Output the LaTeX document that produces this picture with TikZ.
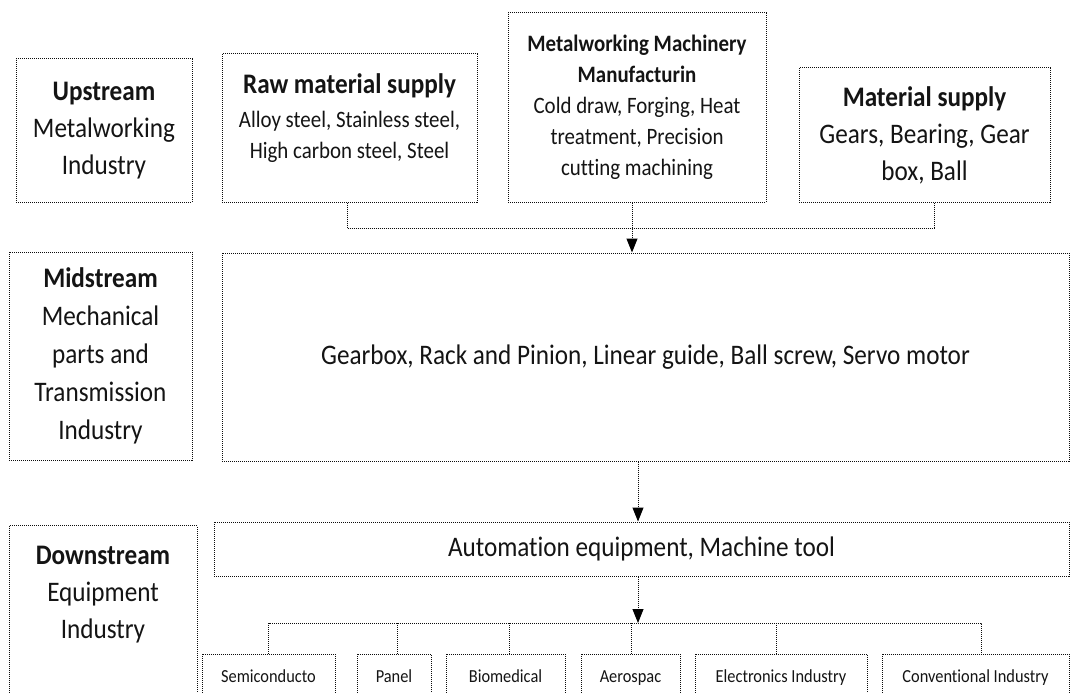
\documentclass[tikz,border=0pt]{standalone}
\usepackage{fontspec}
\setmainfont{Carlito}[FakeStretch=0.89,Ligatures=NoCommon]
\usetikzlibrary{arrows.meta}
\tikzset{
  dotline/.style={draw=black!95, line width=1pt, dash pattern=on 1pt off 1pt},
  bx/.style={dotline, inner sep=0pt, align=center, text=black!92},
  txt/.style={inner sep=0pt, align=center, text=black!92},
  conn/.style={dotline},
  arr/.style={conn, -{Triangle[width=11pt,length=14pt,color=black]}},
  fbig/.style={font=\fontsize{28.3}{37}\selectfont},
  fsmall/.style={font=\fontsize{23.5}{31}\selectfont},
  ftiny/.style={font=\fontsize{18.4}{22}\selectfont, text height=13pt, text depth=4pt}
}
\begin{document}
\begin{tikzpicture}[x=1pt,y=-1pt]
\useasboundingbox (0,0) rectangle (1071,693);
\fill[white] (0,0) rectangle (1071,693);
\clip (0,0) rectangle (1071,693);

% upstream row
\node[bx, fbig, minimum width=176pt, minimum height=143pt] (up) at (104,130.5)
  {\textbf{Upstream}\\Metalworking\\Industry};
\node[bx, minimum width=255pt, minimum height=148pt] (raw) at (349.5,128) {};
\node[txt, fsmall] (rawtxt) at (349.5,118)
  {{\fontsize{28.3}{34}\selectfont\textbf{Raw material supply}}\\[3pt]Alloy steel, Stainless steel,\\High carbon steel, Steel};
\node[bx, fsmall, minimum width=258pt, minimum height=189pt] (metal) at (637,107.5)
  {\textbf{Metalworking Machinery}\\\textbf{Manufacturin}\\Cold draw, Forging, Heat\\treatment, Precision\\cutting machining};
\node[bx, fbig, minimum width=251pt, minimum height=134pt] (mat) at (924.5,135)
  {\textbf{Material supply}\\Gears, Bearing, Gear\\box, Ball};

% midstream row
\node[bx, font=\fontsize{28.3}{38}\selectfont, minimum width=183pt, minimum height=208pt] (midl) at (100.5,356)
  {\textbf{Midstream}\\Mechanical\\parts and\\Transmission\\Industry};
\node[bx, fbig, minimum width=847pt, minimum height=208pt] (midbox) at (645.5,357)
  {Gearbox, Rack and Pinion, Linear guide, Ball screw, Servo motor};

% downstream row
\node[bx, minimum width=188pt, minimum height=190pt, anchor=north] (downl) at (103,525) {};
\node[txt, fbig] (downtxt) at (103,595) {\textbf{Downstream}\\Equipment\\Industry};
\node[bx, fbig, minimum width=855pt, minimum height=54pt] (auto) at (641.5,549)
  {Automation equipment, Machine tool};

\node[bx, ftiny, minimum width=133pt, minimum height=48pt] (semi) at (268.5,678) {Semiconducto};
\node[bx, ftiny, minimum width=74pt, minimum height=48pt] (panel) at (394,678) {Panel};
\node[bx, ftiny, minimum width=119pt, minimum height=48pt] (bio) at (505.5,678) {Biomedical};
\node[bx, ftiny, minimum width=99pt, minimum height=48pt] (aero) at (630.5,678) {Aerospac};
\node[bx, ftiny, minimum width=172pt, minimum height=48pt] (elec) at (781,678) {Electronics Industry};
\node[bx, ftiny, minimum width=187pt, minimum height=48pt] (conv) at (975.5,678) {Conventional Industry};

% connectors
\coordinate (jtop) at (632,228);
\draw[conn] ([xshift=-2.5pt]raw.south) |- (jtop) -| ([xshift=9.5pt]mat.south);
\draw[arr] ([xshift=-5pt]metal.south) -- ([xshift=-5pt]metal.south |- midbox.north);
\draw[arr] ([xshift=-7.5pt]midbox.south) -- ([xshift=-7.5pt]midbox.south |- auto.north);
\coordinate (bus) at (638,623);
\draw[arr] ([xshift=-3.5pt]auto.south) -- (bus);
\draw[conn] (semi.north) |- ([xshift=5.5pt]conv.north |- bus) -- ([xshift=5.5pt]conv.north);
\draw[conn] ([xshift=3pt]panel.north) -- ([xshift=3pt]panel.north |- bus);
\draw[conn] ([xshift=3.5pt]bio.north) -- ([xshift=3.5pt]bio.north |- bus);
\draw[conn] ([xshift=0.5pt]aero.north) -- ([xshift=0.5pt]aero.north |- bus);
\draw[conn] ([xshift=-5pt]elec.north) -- ([xshift=-5pt]elec.north |- bus);
\end{tikzpicture}
\end{document}
